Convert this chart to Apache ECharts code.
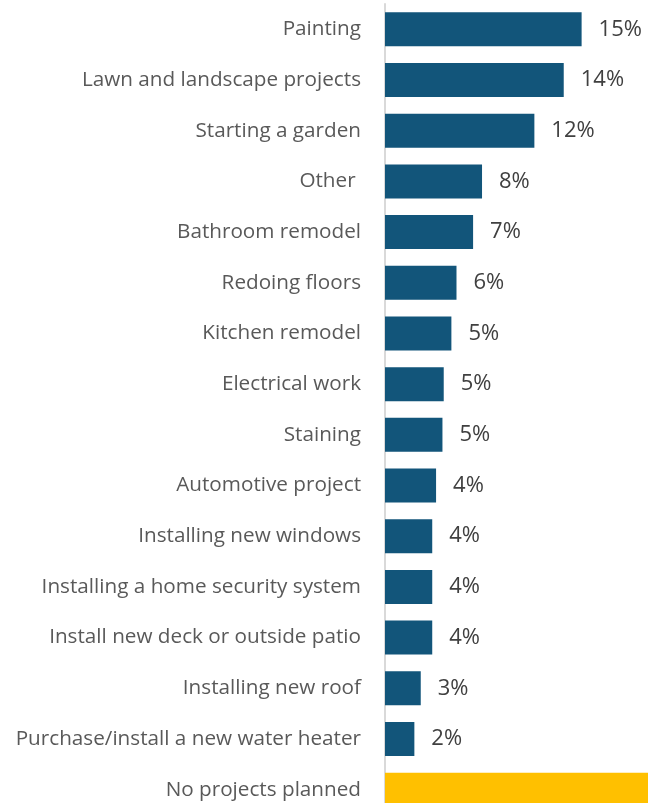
<!DOCTYPE html>
<html>
<head>
<meta charset="utf-8">
<script src="https://cdn.jsdelivr.net/npm/echarts@6/dist/echarts.min.js"></script>
<style>
  html, body { margin: 0; padding: 0; background: #fff; }
  #chart { width: 648px; height: 803px; }
</style>
</head>
<body>
<div id="chart"></div>
<script>
// Planned home projects, share of respondents (%)
const categories = [
  'Painting',
  'Lawn and landscape projects',
  'Starting a garden',
  'Other ',
  'Bathroom remodel',
  'Redoing floors',
  'Kitchen remodel',
  'Electrical work',
  'Staining',
  'Automotive project',
  'Installing new windows',
  'Installing a home security system',
  'Install new deck or outside patio',
  'Installing new roof',
  'Purchase/install a new water heater',
  'No projects planned'
];
const projectShares = [15.4, 14.0, 11.7, 7.6, 6.9, 5.6, 5.2, 4.6, 4.5, 4.0, 3.7, 3.7, 3.7, 2.8, 2.3];
const noProjectsShare = 40;
const axisMax = 20.6;

const barColor = '#12557A';
const noneColor = '#FFC000';

const seriesData = projectShares.map(v => ({ value: v }));
seriesData.push({
  value: noProjectsShare,
  itemStyle: { color: noneColor },
  label: { show: false }
});

const chart = echarts.init(document.getElementById('chart'), null, { renderer: 'canvas' });
chart.setOption({
  animation: false,
  grid: {
    left: 385, right: 0, top: 4, height: 811,
    containLabel: false,
    outerBoundsMode: 'none'
  },
  xAxis: {
    type: 'value',
    min: 0,
    max: axisMax,
    show: false
  },
  yAxis: {
    type: 'category',
    inverse: true,
    data: categories,
    axisLine: { show: true, lineStyle: { color: '#D9D9D9', width: 2 } },
    axisTick: { show: false },
    axisLabel: {
      margin: 24,
      color: '#595959',
      fontFamily: 'Open Sans',
      fontSize: 20.7
    }
  },
  series: [{
    type: 'bar',
    data: seriesData,
    barWidth: 34,
    itemStyle: { color: barColor },
    label: {
      show: true,
      position: 'right',
      distance: 17,
      color: '#404040',
      fontFamily: 'Open Sans',
      fontSize: 22,
      formatter: p => Math.round(p.value) + '%'
    }
  }]
});
</script>
</body>
</html>
